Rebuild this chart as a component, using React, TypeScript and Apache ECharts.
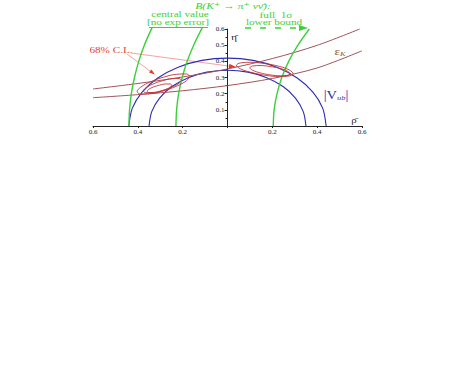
import React, { useEffect, useRef } from "react";
import * as echarts from "echarts";

// ρ̄ / η̄ plane ranges and tick labels
const xRange = [-0.6, 0.6];
const yRange = [0, 0.6];
const xTickStep = 0.2;
const yTickStep = 0.1;

// B(K+ -> pi+ nu nubar) constraint curves (green), points [rho, eta]
const kaonCentralOuter: number[][] = [
  [-0.44, 0], [-0.437, 0.1], [-0.429, 0.2], [-0.415, 0.3], [-0.396, 0.4], [-0.371, 0.5], [-0.336, 0.61],
];
const kaonCentralInner: number[][] = [
  [-0.23, 0], [-0.227, 0.1], [-0.218, 0.2], [-0.202, 0.3], [-0.18, 0.4], [-0.151, 0.5], [-0.112, 0.61],
];
const kaonLowerBound: number[][] = [
  [0.204, 0], [0.208, 0.1], [0.221, 0.2], [0.242, 0.3], [0.273, 0.4], [0.314, 0.5], [0.365, 0.6],
];

// |Vub| circles (blue)
const vubOuter: number[][] = [
  [-0.44, 0], [-0.425, 0.109], [-0.381, 0.21], [-0.311, 0.297], [-0.22, 0.364], [-0.114, 0.406], [0, 0.42],
  [0.114, 0.406], [0.22, 0.364], [0.311, 0.297], [0.381, 0.21], [0.425, 0.109], [0.44, 0],
];
const vubInner: number[][] = [
  [-0.35, 0], [-0.338, 0.089], [-0.303, 0.173], [-0.248, 0.244], [-0.175, 0.299], [-0.091, 0.333], [0, 0.345],
  [0.091, 0.333], [0.175, 0.299], [0.248, 0.244], [0.303, 0.173], [0.338, 0.089], [0.35, 0],
];

// epsilon_K hyperbolas (brown)
const epsKUpper: number[][] = [
  [-0.6, 0.229], [-0.4, 0.263], [-0.2, 0.303], [0, 0.353], [0.2, 0.417], [0.4, 0.499], [0.59, 0.6],
];
const epsKLower: number[][] = [
  [-0.6, 0.175], [-0.4, 0.194], [-0.2, 0.218], [0, 0.25], [0.2, 0.294], [0.4, 0.359], [0.6, 0.465],
];

// 68% C.L. contours (red)
const clLeftOuter: number[][] = [
  [-0.167, 0.307], [-0.183, 0.322], [-0.226, 0.32], [-0.285, 0.302], [-0.344, 0.273], [-0.387, 0.24],
  [-0.403, 0.213], [-0.387, 0.198], [-0.344, 0.2], [-0.285, 0.218], [-0.226, 0.247], [-0.183, 0.28], [-0.167, 0.307],
];
const clLeftMiddle: number[][] = [
  [-0.205, 0.284], [-0.216, 0.294], [-0.248, 0.293], [-0.29, 0.28], [-0.333, 0.259], [-0.364, 0.236],
  [-0.375, 0.216], [-0.364, 0.206], [-0.333, 0.207], [-0.29, 0.22], [-0.248, 0.241], [-0.216, 0.264], [-0.205, 0.284],
];
const clLeftInner: number[][] = [
  [-0.248, 0.252], [-0.255, 0.26], [-0.276, 0.26], [-0.303, 0.253], [-0.331, 0.241], [-0.351, 0.227],
  [-0.358, 0.214], [-0.351, 0.207], [-0.331, 0.206], [-0.303, 0.213], [-0.276, 0.225], [-0.255, 0.24], [-0.248, 0.252],
];
const clRightOuter: number[][] = [
  [0.294, 0.325], [0.277, 0.346], [0.231, 0.369], [0.167, 0.386], [0.104, 0.394], [0.057, 0.39],
  [0.04, 0.375], [0.057, 0.354], [0.104, 0.332], [0.167, 0.314], [0.231, 0.306], [0.277, 0.31], [0.294, 0.325],
];
const clRightInner: number[][] = [
  [0.28, 0.324], [0.268, 0.339], [0.235, 0.356], [0.19, 0.368], [0.145, 0.374], [0.112, 0.371],
  [0.1, 0.36], [0.112, 0.345], [0.145, 0.329], [0.19, 0.316], [0.235, 0.311], [0.268, 0.313], [0.28, 0.324],
];

const GREEN = "#3ccf3c";
const BLUE = "#2b2bb5";
const BROWN = "#a0545a";
const RED = "#c0353a";
const SERIF = "'Liberation Serif', 'DejaVu Serif', serif";

const GRID_LEFT = 93;
const GRID_RIGHT = 101;
const CHART_W = 463;

function curve(data: number[][], color: string, width: number, smooth: number | boolean = 0.3) {
  return {
    type: "line",
    data,
    smooth,
    showSymbol: false,
    symbol: "none",
    clip: false,
    silent: true,
    lineStyle: { color, width },
  };
}

function label(text: string, x: number, y: number, fill: string, font: string, scaleX = 1.4) {
  return {
    type: "text",
    x,
    y,
    scaleX,
    style: { text, fill, font, textAlign: "center", textVerticalAlign: "middle" },
  };
}

export default function App() {
  const ref = useRef<HTMLDivElement>(null);
  useEffect(() => {
    if (!ref.current) return;
    const chart = echarts.init(ref.current, null, { renderer: "svg" });
    const fmt = (v: number) => (Math.abs(v) < 1e-9 ? "" : Math.abs(v).toFixed(1));
    const gridW = CHART_W - GRID_LEFT - GRID_RIGHT;
    // place y axis at rho = 0 (middle of symmetric x range)
    const yAxisOffset = -gridW * ((0 - xRange[0]) / (xRange[1] - xRange[0]));
    chart.setOption({
      animation: false,
      backgroundColor: "#ffffff",
      grid: { left: GRID_LEFT, right: GRID_RIGHT, top: 29, bottom: 245 },
      xAxis: {
        type: "value",
        min: xRange[0],
        max: xRange[1],
        interval: xTickStep,
        axisLine: { onZero: true, lineStyle: { color: "#222", width: 1 } },
        axisTick: { show: true, length: 2, lineStyle: { color: "#222" } },
        axisLabel: { formatter: fmt, fontSize: 7, fontFamily: SERIF, color: "#222", margin: 2 },
        splitLine: { show: false },
      },
      yAxis: {
        type: "value",
        min: yRange[0],
        max: yRange[1],
        interval: yTickStep,
        position: "left",
        offset: yAxisOffset,
        axisLine: { show: true, onZero: false, lineStyle: { color: "#222", width: 1 } },
        axisTick: { show: true, length: 3, lineStyle: { color: "#222" } },
        minorTick: { show: true, splitNumber: 2, length: 2, lineStyle: { color: "#222" } },
        axisLabel: { formatter: fmt, fontSize: 7, fontFamily: SERIF, color: "#222", margin: 3 },
        splitLine: { show: false },
      },
      series: [
        curve(vubOuter, BLUE, 1.1),
        curve(vubInner, BLUE, 1.1),
        curve(epsKUpper, BROWN, 1),
        curve(epsKLower, BROWN, 1),
        curve(kaonCentralOuter, GREEN, 1.4),
        curve(kaonCentralInner, GREEN, 1.4),
        curve(kaonLowerBound, GREEN, 1.4),
        curve(clLeftOuter, RED, 0.9, 0.4),
        curve(clLeftMiddle, RED, 0.9, 0.4),
        curve(clLeftInner, RED, 0.9, 0.4),
        curve(clRightOuter, RED, 0.9, 0.4),
        curve(clRightInner, RED, 0.9, 0.4),
      ],
      graphic: [
        label("B(K\u207A \u2192 \u03C0\u207A \u03BD\u03BD\u0304):", 233, 5.5, GREEN, `italic 9px ${SERIF}`, 1.3),
        label("central value", 180, 14.5, GREEN, `8px ${SERIF}`),
        label("[no exp error]", 178, 22, GREEN, `8px ${SERIF}`),
        { type: "line", shape: { x1: 149, y1: 27.5, x2: 208, y2: 27.5 }, style: { stroke: GREEN, lineWidth: 1.2 } },
        label("full  1\u03C3", 276, 15, GREEN, `8px ${SERIF}`),
        label("lower bound", 274, 22.5, GREEN, `8px ${SERIF}`),
        { type: "line", shape: { x1: 245, y1: 28, x2: 300, y2: 28 }, style: { stroke: GREEN, lineWidth: 1.5, lineDash: [6, 9] } },
        { type: "polygon", shape: { points: [[299, 25], [308, 28], [299, 31]] }, style: { fill: GREEN } },
        label("68% C.L.", 111, 50, "#e5442e", `8px ${SERIF}`),
        { type: "line", shape: { x1: 127, y1: 54, x2: 152, y2: 72.5 }, style: { stroke: "#f4a3a0", lineWidth: 1 } },
        { type: "polygon", shape: { points: [[155, 74.5], [149, 72.6], [151.4, 69.4]] }, style: { fill: "#e53a25" } },
        { type: "line", shape: { x1: 131, y1: 53, x2: 230, y2: 66.2 }, style: { stroke: "#f4a3a0", lineWidth: 1 } },
        { type: "polygon", shape: { points: [[236, 67], [228.8, 68.6], [229.4, 63.8]] }, style: { fill: "#e53a25" } },
        label("\u03C1\u0304", 354, 120, "#222", `9px ${SERIF}`, 1.2),
        label("\u03B7\u0304", 234, 37, "#222", `9px ${SERIF}`, 1.2),
        {
          type: "text", x: 340, y: 51, scaleX: 1.2,
          style: {
            text: "{e|\u03B5}{s|K}", textAlign: "center", textVerticalAlign: "middle",
            rich: {
              e: { fontSize: 11, fontFamily: SERIF, fill: "#8b5a2b" },
              s: { fontSize: 7, fontFamily: SERIF, fontStyle: "italic", fill: "#8b5a2b", verticalAlign: "bottom", padding: [5, 0, 0, 0] },
            },
          },
        },
        {
          type: "text", x: 336, y: 95, scaleX: 1.2,
          style: {
            text: "{v||V}{s|ub}{v||}", textAlign: "center", textVerticalAlign: "middle",
            rich: {
              v: { fontSize: 12, fontFamily: SERIF, fill: BLUE },
              s: { fontSize: 7, fontFamily: SERIF, fontStyle: "italic", fill: BLUE, verticalAlign: "bottom", padding: [5, 0, 0, 0] },
            },
          },
        },
      ],
    });
    return () => chart.dispose();
  }, []);
  return (
    <div
      ref={ref}
      style={{ position: "fixed", left: 0, top: 0, width: 463, height: 371, background: "#fff" }}
    />
  );
}
